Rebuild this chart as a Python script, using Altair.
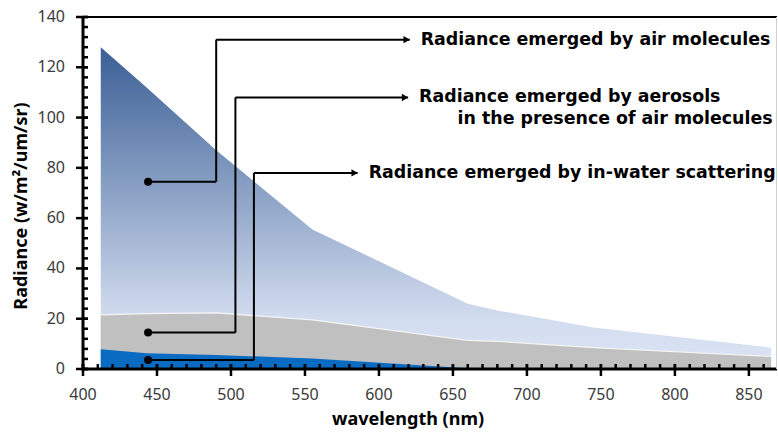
import altair as alt
import pandas as pd

# ---- data ----
wavelength = [412, 443, 490, 555, 660, 680, 745, 865]
air_total = [128, 112, 87, 55.5, 26, 23.3, 16.5, 8.5]
aerosol_total = [21.5, 22.0, 22.3, 19.5, 11.4, 11.0, 8.5, 5.0]
water = [7.9, 6.3, 5.6, 4.2, 0.3, 0.0, 0.0, 0.0]

x_ticks = [400, 450, 500, 550, 600, 650, 700, 750, 800, 850]
x_minor = list(range(400, 870, 10))
y_ticks = [0, 20, 40, 60, 80, 100, 120, 140]
y_minor = list(range(0, 141, 4))
x_title = "wavelength (nm)"
y_title = "Radiance (w/m²/um/sr)"

# annotation connectors: dot -> elbow -> arrow tip
ann_labels = ["Radiance emerged by air molecules",
              "Radiance emerged by aerosols",
              "Radiance emerged by in-water scattering"]
ann_dot_x = [444, 444, 444]
ann_dot_y = [74.5, 14.5, 3.6]
ann_elbow_x = [490, 503, 515.5]
ann_top_y = [131, 108, 78]
ann_tip_x = [620.8, 619.7, 585.6]
extra_label = "in the presence of air molecules"
extra_x = 866
extra_y = 99.6

W, H = 694, 352
XD = [400, 869]
YD = [0, 140]
FONT = "Noto Sans"
AFONT = "DejaVu Sans"

# tick lengths (pixels) converted to data units of each scale
PX_Y = (YD[1] - YD[0]) / H
PX_X = (XD[1] - XD[0]) / W
OUT, IN = 7, 5

df = pd.DataFrame({"wl": wavelength, "air": air_total,
                   "aer": aerosol_total, "water": water})

xs = alt.Scale(domain=XD, nice=False, zero=False)
ys = alt.Scale(domain=YD, nice=False)


def X(f):
    return alt.X(f, scale=xs, axis=None)


def Y(f):
    return alt.Y(f, scale=ys, axis=None)


grad = alt.Gradient(
    gradient="linear",
    stops=[alt.GradientStop(color="#3a5f95", offset=0),
           alt.GradientStop(color="#d2dcef", offset=0.84),
           alt.GradientStop(color="#dce5f4", offset=1)],
    x1=0, x2=0, y1=0, y2=1)

air = alt.Chart(df).mark_area(color=grad).encode(x=X("wl:Q"), y=Y("air:Q"))
aer = alt.Chart(df).mark_area(color="#c0c0c0").encode(x=X("wl:Q"), y=Y("aer:Q"))
aer_edge = alt.Chart(df).mark_line(color="#f4f4f4", strokeWidth=1.2).encode(
    x=X("wl:Q"), y=Y("aer:Q"))
wat = alt.Chart(df).mark_area(color="#0a6bc3").encode(x=X("wl:Q"), y=Y("water:Q"))

one = pd.DataFrame({"k": [0]})

# axis lines and frame
x_dom = alt.Chart(one).mark_rule(color="black", strokeWidth=3).encode(
    x=alt.value(-1.5), x2=alt.value(W), y=alt.value(H))
y_dom = alt.Chart(one).mark_rule(color="black", strokeWidth=3).encode(
    x=alt.value(0), y=alt.value(0), y2=alt.value(H + 1.5))
top_edge = alt.Chart(one).mark_rule(color="black", strokeWidth=2).encode(
    x=alt.value(-7), x2=alt.value(W), y=alt.value(0))
right_edge = alt.Chart(one).mark_rule(color="#d0d0d0", strokeWidth=1).encode(
    x=alt.value(W - 0.5), y=alt.value(0), y2=alt.value(H))

# tick marks (major ticks cross the axis line, minor ticks point inward)
xmaj_df = pd.DataFrame({"tx": x_ticks, "lo": YD[0] - OUT * PX_Y, "hi": YD[0] + IN * PX_Y})
xmin_df = pd.DataFrame({"tx": x_minor, "lo": YD[0], "hi": YD[0] + IN * PX_Y})
ymaj_df = pd.DataFrame({"ty": y_ticks, "lo": XD[0] - OUT * PX_X, "hi": XD[0] + IN * PX_X})
ymin_df = pd.DataFrame({"ty": y_minor, "lo": XD[0], "hi": XD[0] + IN * PX_X})

xmaj = alt.Chart(xmaj_df).mark_rule(color="black", strokeWidth=2.5).encode(
    x=X("tx:Q"), y=Y("lo:Q"), y2="hi:Q")
xmin = alt.Chart(xmin_df).mark_rule(color="black", strokeWidth=2.5).encode(
    x=X("tx:Q"), y=Y("lo:Q"), y2="hi:Q")
ymaj = alt.Chart(ymaj_df).mark_rule(color="black", strokeWidth=2.5).encode(
    y=Y("ty:Q"), x=X("lo:Q"), x2="hi:Q")
ymin = alt.Chart(ymin_df).mark_rule(color="black", strokeWidth=2.5).encode(
    y=Y("ty:Q"), x=X("lo:Q"), x2="hi:Q")

# tick labels and axis titles
xlab = alt.Chart(pd.DataFrame({"v": x_ticks})).mark_text(
    font=FONT, fontSize=16, color="#3a3a3a", baseline="middle", align="center").encode(
    x=X("v:Q"), y=alt.value(H + 26), text="v:Q")
ylab = alt.Chart(pd.DataFrame({"v": y_ticks})).mark_text(
    font=FONT, fontSize=16, color="#3a3a3a", baseline="middle", align="right").encode(
    y=Y("v:Q"), x=alt.value(-18), text="v:Q")
xtit = alt.Chart(pd.DataFrame({"t": [x_title]})).mark_text(
    font=FONT, fontSize=18, fontWeight="bold", color="black", baseline="middle",
    align="center").encode(x=alt.value(325), y=alt.value(H + 51), text="t:N")
ytit = alt.Chart(pd.DataFrame({"t": [y_title]})).mark_text(
    font=FONT, fontSize=18, fontWeight="bold", color="black", baseline="middle",
    align="center", angle=270).encode(x=alt.value(-61), y=alt.value(189), text="t:N")

ann = pd.DataFrame({"label": ann_labels, "dx": ann_dot_x, "dy": ann_dot_y,
                    "ex": ann_elbow_x, "ty": ann_top_y, "tx": ann_tip_x})

seg1 = alt.Chart(ann).mark_rule(color="black", strokeWidth=2).encode(
    x=X("dx:Q"), x2="ex:Q", y=Y("dy:Q"), y2="dy:Q")
seg2 = alt.Chart(ann).mark_rule(color="black", strokeWidth=2).encode(
    x=X("ex:Q"), y=Y("dy:Q"), y2="ty:Q")
seg3 = alt.Chart(ann).mark_rule(color="black", strokeWidth=2).encode(
    x=X("ex:Q"), x2="tx:Q", y=Y("ty:Q"), y2="ty:Q")
dots = alt.Chart(ann).mark_point(filled=True, color="black", size=65, opacity=1).encode(
    x=X("dx:Q"), y=Y("dy:Q"))
heads = alt.Chart(ann).mark_point(shape="triangle-right", filled=True, color="black",
                                  size=55, opacity=1, xOffset=-3).encode(
    x=X("tx:Q"), y=Y("ty:Q"))
texts = alt.Chart(ann).mark_text(align="left", baseline="middle", dx=11, font=AFONT,
                                 fontSize=17.4, fontWeight="bold", color="black").encode(
    x=X("tx:Q"), y=Y("ty:Q"), text="label:N")
extra = alt.Chart(pd.DataFrame({"label": [extra_label], "x": [extra_x], "y": [extra_y]})).mark_text(
    align="right", baseline="middle", font=AFONT, fontSize=17.4, fontWeight="bold",
    color="black").encode(x=X("x:Q"), y=Y("y:Q"), text="label:N")

chart = alt.layer(
    air, aer, aer_edge, wat, x_dom, y_dom, top_edge, right_edge,
    xmaj, xmin, ymaj, ymin, xlab, ylab, xtit, ytit,
    seg1, seg2, seg3, dots, heads, texts, extra
).properties(
    width=W, height=H, autosize=alt.AutoSizeParams(type="none"),
    padding={"left": 83, "top": 17, "right": 1, "bottom": 64},
    background="white",
).configure_view(stroke=None)

chart.save("out.html", embed_options={"renderer": "svg", "actions": False})
